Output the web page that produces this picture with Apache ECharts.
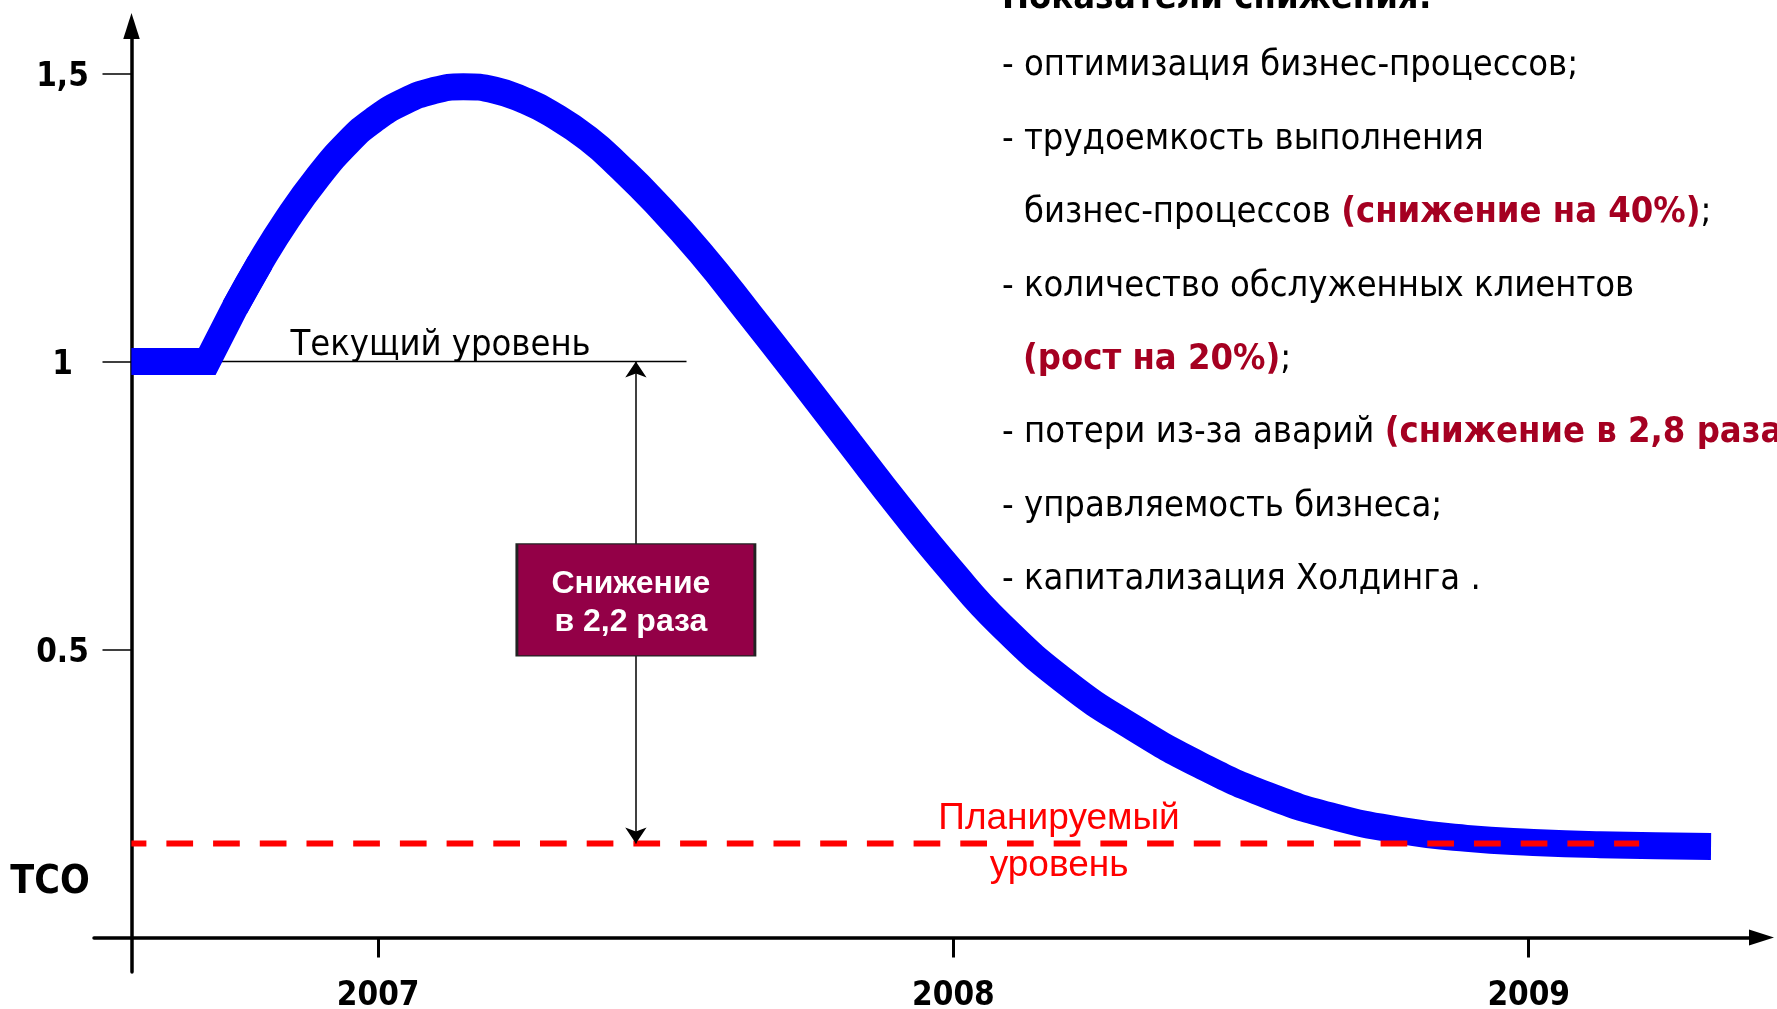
<!DOCTYPE html>
<html lang="ru">
<head>
  <meta charset="UTF-8">
  <title>TCO</title>
  <style>
    html, body { margin: 0; padding: 0; background: #fff; }
    #chart { width: 1777px; height: 1009px; }
  </style>
</head>
<body>
  <div id="chart"></div>
  <script src="https://cdn.jsdelivr.net/npm/echarts@6.0.0/dist/echarts.min.js"></script>
  <script>
    // подписи осей
    var yearTicks = [2007, 2008, 2009];
    var valueTicks = [0.5, 1, 1.5];
    var valueTickLabels = ['0.5', '1', '1,5'];

    // кривая TCO (год, значение)
    var tcoYears = [2006.571, 2006.703, 2006.751, 2006.795, 2006.842, 2006.894, 2006.949, 2006.993,
      2007.042, 2007.095, 2007.148, 2007.203, 2007.255, 2007.299, 2007.365, 2007.422, 2007.480,
      2007.560, 2007.646, 2007.733, 2007.820, 2007.907, 2007.994, 2008.081, 2008.197, 2008.313,
      2008.429, 2008.545, 2008.660, 2008.776, 2008.892, 2009.008, 2009.124, 2009.317];
    var tcoValues = [1.0, 1.0, 1.094, 1.172, 1.247, 1.319, 1.382, 1.420,
      1.450, 1.470, 1.477, 1.471, 1.453, 1.431, 1.387, 1.336, 1.278,
      1.189, 1.082, 0.971, 0.858, 0.746, 0.640, 0.544, 0.442, 0.364,
      0.299, 0.247, 0.210, 0.186, 0.172, 0.165, 0.161, 0.158];

    // уровни
    var currentLevel = 1;
    var plannedLevel = 0.163;
    var levelStartYear = 2006.571;
    var currentLineEndYear = 2007.536;
    var plannedLineEndYear = 2009.192;
    var arrowYear = 2007.448;
    var boxValue = 0.586;

    var textFont = "'DejaVu Sans Condensed', 'DejaVu Sans', sans-serif";
    var arialFont = "'Liberation Sans', Arial, sans-serif";

    function pairs(xs, ys) {
      return xs.map(function (x, i) { return [x, ys[i]]; });
    }
    var tco = pairs(tcoYears, tcoValues);

    // текст справа
    var notes = [
      { x: 1002, parts: [['- оптимизация бизнес-процессов;', 'n']] },
      { x: 1002, parts: [['- трудоемкость выполнения', 'n']] },
      { x: 1024, parts: [['бизнес-процессов ', 'n'], ['(снижение на 40%)', 'r'], [';', 'n']] },
      { x: 1002, parts: [['- количество обслуженных клиентов', 'n']] },
      { x: 1023, parts: [['(рост на 20%)', 'r'], [';', 'n']] },
      { x: 1002, parts: [['- потери из-за аварий ', 'n'], ['(снижение в 2,8 раза);', 'r']] },
      { x: 1002, parts: [['- управляемость бизнеса;', 'n']] },
      { x: 1002, parts: [['- капитализация Холдинга .', 'n']] }
    ];

    var graphics = [{
      type: 'text', x: 1002, y: -1, silent: true,
      style: { text: 'Показатели снижения:', font: 'bold 36px ' + textFont, fill: '#000', verticalAlign: 'middle' }
    }, {
      type: 'text', x: 50, y: 883, silent: true,
      style: { text: 'TCO', font: 'bold 39px ' + textFont, fill: '#000', align: 'center', verticalAlign: 'middle' }
    }];
    notes.forEach(function (line, i) {
      var txt = line.parts.map(function (p) { return '{' + p[1] + '|' + p[0] + '}'; }).join('');
      graphics.push({
        type: 'text', x: line.x, y: 66 + i * 73.4, silent: true,
        style: {
          text: txt, verticalAlign: 'middle',
          rich: {
            n: { fontSize: 36, fontFamily: textFont, fill: '#000' },
            r: { fontSize: 36, fontFamily: textFont, fontWeight: 'bold', fill: '#a50021' }
          }
        }
      });
    });

    var chart = echarts.init(document.getElementById('chart'));
    var option = {
      animation: false,
      grid: { left: 94, right: 15.5, top: 26, bottom: 37, outerBoundsMode: 'none' },
      xAxis: {
        type: 'value',
        min: 2006.506,
        max: 2009.4047,
        splitLine: { show: false },
        axisLine: {
          onZero: true,
          lineStyle: { color: '#000', width: 3.5 },
          symbol: ['none', 'triangle'],
          symbolSize: [16, 25]
        },
        axisTick: { customValues: yearTicks, length: 20, lineStyle: { color: '#000', width: 3 } },
        axisLabel: {
          customValues: yearTicks,
          formatter: function (v) { return String(v); },
          margin: 8,
          color: '#000',
          fontSize: 33,
          fontWeight: 'bold',
          fontFamily: textFont
        }
      },
      yAxis: {
        type: 'value',
        min: -0.06,
        max: 1.5825,
        offset: -37.5,
        splitLine: { show: false },
        axisLine: {
          show: true,
          onZero: false,
          lineStyle: { color: '#000', width: 3.5 },
          symbol: ['none', 'triangle'],
          symbolSize: [16.5, 26]
        },
        axisTick: { show: true, customValues: valueTicks, length: 29, lineStyle: { color: '#000', width: 1.5 } },
        axisLabel: {
          customValues: valueTicks,
          formatter: function (v) { return valueTickLabels[valueTicks.indexOf(v)]; },
          margin: 69,
          align: 'center',
          verticalAlign: 'top',
          lineHeight: 8,
          color: '#000',
          fontSize: 33,
          fontWeight: 'bold',
          fontFamily: textFont
        }
      },
      graphic: graphics,
      series: [
        {
          // текущий уровень + стрелка + плашка
          type: 'line',
          data: [[levelStartYear, currentLevel], [currentLineEndYear, currentLevel]],
          symbol: 'none',
          silent: true,
          z: 2,
          lineStyle: { color: '#000', width: 1.5 },
          markLine: {
            silent: true,
            symbol: ['arrow', 'arrow'],
            symbolSize: [16, 16],
            label: { show: false },
            lineStyle: { color: '#000', width: 1.5, type: 'solid' },
            data: [[{ coord: [arrowYear, currentLevel] }, { coord: [arrowYear, plannedLevel] }]]
          },
          markPoint: {
            silent: true,
            data: [{
              coord: [2007.1085, 1.028],
              symbol: 'circle',
              symbolSize: 0,
              label: {
                show: true, position: 'inside', formatter: 'Текущий уровень',
                color: '#000', fontSize: 36, fontFamily: textFont
              }
            }, {
              coord: [arrowYear, boxValue],
              symbol: 'rect',
              symbolSize: [238, 112],
              itemStyle: { color: '#930047', borderColor: '#222', borderWidth: 2 },
              label: {
                show: true, position: 'inside', formatter: 'Снижение\nв 2,2 раза',
                color: '#fff', fontSize: 32, fontWeight: 'bold', fontFamily: arialFont,
                lineHeight: 38, offset: [-5, 3]
              }
            }]
          }
        },
        {
          type: 'line',
          data: tco.slice(0, 4),
          symbol: 'none',
          silent: true,
          z: 3,
          lineStyle: { color: '#0000ff', width: 27, join: 'miter', cap: 'butt' }
        },
        {
          type: 'line',
          data: tco.slice(2),
          smooth: 0.5,
          symbol: 'none',
          silent: true,
          z: 3,
          lineStyle: { color: '#0000ff', width: 27, cap: 'butt' }
        },
        {
          // планируемый уровень
          type: 'line',
          data: [[levelStartYear, plannedLevel], [plannedLineEndYear, plannedLevel]],
          symbol: 'none',
          silent: true,
          z: 4,
          lineStyle: { color: '#ff0000', width: 6, type: [26.7, 20], dashOffset: 11.7 },
          markPoint: {
            silent: true,
            data: [{
              coord: [2008.1836, 0.165],
              symbol: 'circle',
              symbolSize: 0,
              label: {
                show: true, position: 'inside', formatter: 'Планируемый\nуровень',
                color: '#ff0000', fontSize: 37, fontFamily: arialFont, lineHeight: 47
              }
            }]
          }
        }
      ]
    };
    chart.setOption(option);
  </script>
</body>
</html>
